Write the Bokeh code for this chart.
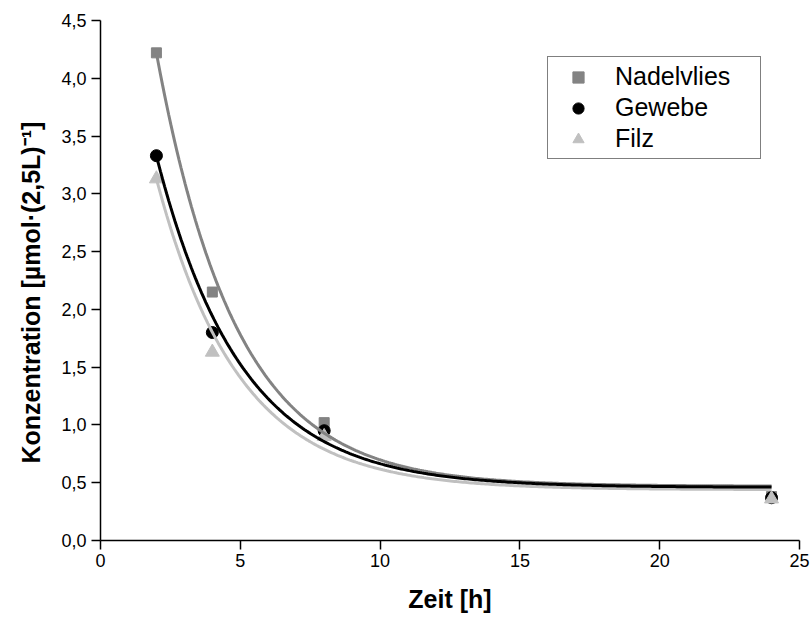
import numpy as np
from bokeh.plotting import figure
from bokeh.models import FixedTicker, CustomJSTickFormatter, Legend, LegendItem, Range1d, Title
from bokeh.embed import file_html
from bokeh.resources import INLINE

# Data
zeit = [2, 4, 8, 24]
nadelvlies = [4.22, 2.15, 1.02, 0.38]
gewebe = [3.33, 1.80, 0.95, 0.37]
filz = [3.13, 1.63, 0.90, 0.36]

# Exponential fit parameters y = c + A*exp(-k*x)
fit_nadelvlies = (0.47, 7.55, 0.35)
fit_gewebe = (0.46, 5.55, 0.33)
fit_filz = (0.44, 5.31, 0.34)

x_ticks = [0, 5, 10, 15, 20, 25]
y_ticks = [0.0, 0.5, 1.0, 1.5, 2.0, 2.5, 3.0, 3.5, 4.0, 4.5]

FONT = "Liberation Sans"

p = figure(width=812, height=617, output_backend="svg", toolbar_location=None,
           x_range=Range1d(0, 25), y_range=Range1d(0, 4.5),
           min_border_left=100, min_border_right=13, min_border_top=20, min_border_bottom=77)
p.outline_line_color = None
p.xgrid.visible = False
p.ygrid.visible = False
p.background_fill_color = "white"
p.border_fill_color = "white"

xfit = np.linspace(zeit[0], zeit[-1], 300)

def model(params):
    c, a, k = params
    return c + a * np.exp(-k * xfit)

s1 = p.scatter(zeit, nadelvlies, marker="square", size=10, color="#838383")
s2 = p.scatter(zeit, gewebe, marker="circle", size=12, color="black")
s3 = p.scatter(zeit, filz, marker="triangle", size=14, color="#c0c0c0")

p.line(xfit, model(fit_nadelvlies), line_width=3, color="#838383")
p.line(xfit, model(fit_filz), line_width=3, color="#c0c0c0")
p.line(xfit, model(fit_gewebe), line_width=3, color="black")

for ax in (p.xaxis[0], p.yaxis[0]):
    ax.axis_line_width = 1.5
    ax.axis_line_color = "black"
    ax.major_tick_line_width = 1.5
    ax.major_tick_line_color = "black"
    ax.major_tick_out = 9
    ax.major_tick_in = 0
    ax.minor_tick_out = 0
    ax.minor_tick_in = 0
    ax.major_label_text_font = FONT
    ax.major_label_text_font_size = "18px"
    ax.major_label_text_color = "black"
    ax.axis_label_text_font = FONT
    ax.axis_label_text_font_size = "25px"
    ax.axis_label_text_font_style = "bold"
    ax.axis_label_text_color = "black"

p.xaxis.ticker = FixedTicker(ticks=x_ticks)
p.yaxis.ticker = FixedTicker(ticks=y_ticks)
p.yaxis.formatter = CustomJSTickFormatter(code="return tick.toFixed(1).replace('.', ',');")
p.xaxis.major_label_standoff = 4
p.yaxis.major_label_standoff = 5
p.xaxis.axis_label = "Zeit [h]"
p.xaxis.axis_label_standoff = 15

ytitle = Title(text="Konzentration [µmol·(2,5L)⁻¹]", align="left", offset=77,
               text_font=FONT, text_font_size="25px", text_font_style="bold",
               text_color="black", standoff=27)
p.add_layout(ytitle, "left")

legend = Legend(items=[LegendItem(label="Nadelvlies", renderers=[s1]),
                       LegendItem(label="Gewebe", renderers=[s2]),
                       LegendItem(label="Filz", renderers=[s3])],
                location=(447, 381))
legend.label_text_font = FONT
legend.label_text_font_size = "25px"
legend.label_text_color = "black"
legend.border_line_color = "black"
legend.border_line_width = 1.5
legend.background_fill_alpha = 1
legend.padding = 5
legend.margin = 0
legend.spacing = 2
legend.glyph_width = 50
legend.glyph_height = 28
legend.label_height = 28
legend.label_width = 140
legend.label_standoff = 12
p.add_layout(legend, "center")

open("out.html", "w").write(file_html(p, INLINE))
